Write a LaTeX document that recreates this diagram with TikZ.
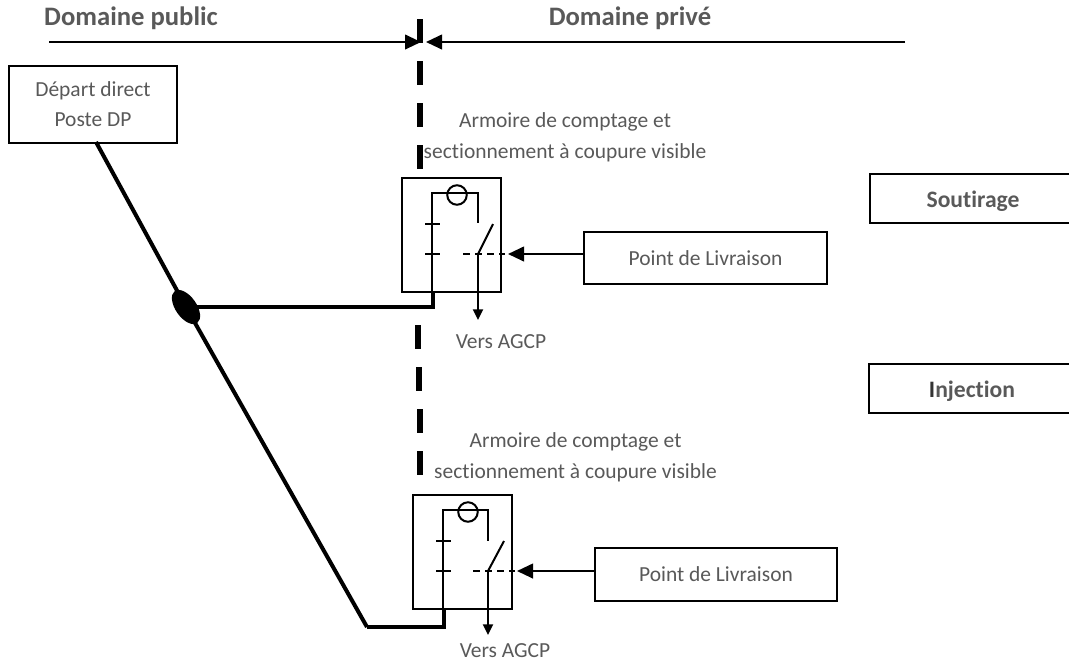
\documentclass[tikz,border=0pt]{standalone}
\usepackage{fontspec}
\setmainfont[Ligatures=CommonOff]{Carlito}
\usetikzlibrary{arrows.meta,shapes.geometric}
\definecolor{txt}{RGB}{89,89,89}
\tikzset{
 lab/.style={text=txt,font=\fontsize{16.1pt}{23pt}\selectfont,align=center,inner sep=0pt},
 hd/.style={text=txt,font=\bfseries\fontsize{20pt}{24pt}\selectfont,inner sep=0pt},
 tag/.style={text=txt,font=\bfseries\fontsize{17.7pt}{20pt}\selectfont,inner sep=0pt},
 bx/.style={draw=black,line width=1.5pt,fill=white,inner sep=0pt},
 thin1/.style={line width=1.5pt},
 thick1/.style={line width=3pt},
 arr/.style={line width=1.5pt,-{Triangle[length=12pt,width=11pt]}},
 arrs/.style={line width=1.5pt,-{Triangle[length=8pt,width=7.5pt]}},
 ring/.style={draw,circle,line width=1.5pt,minimum size=19.5*0.75pt,inner sep=0pt},
}
\begin{document}
\begin{tikzpicture}[x=0.75pt,y=-0.75pt]
\useasboundingbox (0,0) rectangle (1069,662);
% boundary
\foreach \a/\xa in {19/420,61/420,103/420,145/420,325/418,367/419,409/419.5,451/420}{
 \fill (\xa-3,\a) rectangle (\xa+3,\a+24);}
% top arrows
\coordinate (tl) at (49,42); \coordinate (tr) at (905,42);
\coordinate (ml) at (421,42); \coordinate (mr) at (426,42);
\draw[arr] (tl)--(ml);
\draw[arr] (tr)--(mr);
\node[hd] (dpub) at (131,18) {Domaine public};
\node[hd] (dpri) at (630,18) {Domaine privé};
% depart
\node[bx,minimum width=168*0.75pt,minimum height=77*0.75pt,lab] (dep) at (93,104) {Départ direct\\Poste DP};
% main feeder
\coordinate (j) at (186,307);
\coordinate (k) at (367,627);
\draw[thick1] (96,142) -- (j) -- (k);
% box 1
\node[bx,minimum width=99*0.75pt,minimum height=114*0.75pt] (b1) at (451.5,235) {};
\coordinate (k1) at (433,307);
\draw[thick1,line cap=butt] (j)--(k1)--(433,292);
\draw[thin1] (432,292)--(432,193)--(478,193)--(478,223);
\node[ring] (c1) at (457,195) {};
\draw[thin1] (425,223.5)--(440,223.5);
\draw[thin1] (425,254)--(440,254);
\draw[thin1,dash pattern=on 5.5pt off 3.5pt] (463,254)--(505,254);
\draw[thin1] (478,254)--(493,224);
\draw[arrs] (478,254)--(478,320);
\node[bx,minimum width=243*0.75pt,minimum height=52*0.75pt,lab] (p1) at (705.5,258) {Point de Livraison};
\draw[arr] (p1.west|-0,254) coordinate (p1a) -- (508,254);
\node[lab] (t1) at (565,137.5) {Armoire de comptage et\\sectionnement à coupure visible};
\node[lab] (v1) at (501,342) {Vers AGCP};
% box 2
\node[bx,minimum width=99*0.75pt,minimum height=114*0.75pt] (b2) at (462,552) {};
\draw[thick1] (k)--(444,627)--(444,609);
\draw[thin1] (443,609)--(443,510)--(488,510)--(488,541);
\node[ring] (c2) at (468,512) {};
\draw[thin1] (436,541)--(451,541);
\draw[thin1] (436,571)--(451,571);
\draw[thin1,dash pattern=on 5.5pt off 3.5pt] (473,571)--(515,571);
\draw[thin1] (488,571)--(504,541);
\draw[arrs] (488,571)--(488,635);
\node[bx,minimum width=242*0.75pt,minimum height=53*0.75pt,lab] (p2) at (716,574.5) {Point de Livraison};
\draw[arr] (p2.west|-0,571) -- (517,571);
\node[lab] (t2) at (575.5,457) {Armoire de comptage et\\sectionnement à coupure visible};
\node[lab] (v2) at (505,651) {Vers AGCP};
% junction
\node[fill=black,ellipse,minimum width=39*0.75pt,minimum height=21*0.75pt,inner sep=0pt,rotate=-55] (jn) at (186,307) {};
% right tags
\draw[line width=1.5pt] (1069,174)--(870,174)--(870,223)--(1069,223);
\draw[line width=1.5pt] (1069,364)--(869,364)--(869,413)--(1069,413);
\node[tag] (sout) at (973,201) {Soutirage};
\node[tag] (inj) at (972,391) {\textcolor{black!80}{I}njection};
\end{tikzpicture}
\end{document}
